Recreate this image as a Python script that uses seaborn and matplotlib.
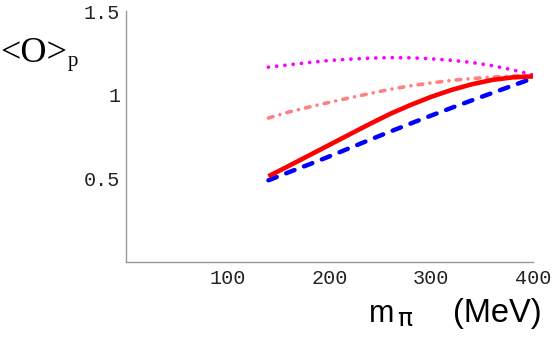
import matplotlib
matplotlib.use("Agg")
import matplotlib.pyplot as plt
import seaborn as sns
import pandas as pd

# ---- data ----
m_pi = [140, 160, 180, 200, 220, 240, 260, 280, 300, 320, 340, 360, 380, 400]
solid_red = [0.514, 0.576, 0.639, 0.702, 0.765, 0.828, 0.888, 0.941, 0.989,
             1.030, 1.064, 1.090, 1.105, 1.111]
dashed_blue = [0.490, 0.538, 0.585, 0.633, 0.683, 0.733, 0.782, 0.830, 0.877,
               0.923, 0.968, 1.012, 1.056, 1.100]
dashdot_pink = [0.862, 0.898, 0.928, 0.956, 0.983, 1.009, 1.034, 1.055, 1.072,
                1.087, 1.098, 1.107, 1.113, 1.116]
dotted_magenta = [1.166, 1.180, 1.194, 1.206, 1.214, 1.220, 1.223, 1.222, 1.216,
                  1.207, 1.194, 1.175, 1.150, 1.120]
x_ticks = [100, 200, 300, 400]
x_tick_labels = ["100", "200", "300", "400"]
y_ticks = [0.5, 1.0, 1.5]
y_tick_labels = ["0.5", "1", "1.5"]

df = pd.DataFrame({"m_pi": m_pi, "red": solid_red, "blue": dashed_blue,
                   "pink": dashdot_pink, "magenta": dotted_magenta})

sns.set_style("white")
plt.rcParams["font.family"] = ["Liberation Sans", "DejaVu Sans"]

fig = plt.figure(figsize=(5.54, 3.39), dpi=100)
ax = fig.add_axes([0.2274, 0.2263, 0.7347, 0.7404])

specs = [
    ("magenta", "#FF00FF", 2.7, (0, (0.01, 2.2))),
    ("pink", "#FF8080", 2.6, (0, (1.3, 2.0, 0.01, 2.0))),
    ("blue", "#0000FF", 3.2, (0, (2.0, 2.3))),
    ("red", "#FF0000", 3.3, "-"),
]
for col, color, lw, ls in specs:
    sns.lineplot(data=df, x="m_pi", y=col, ax=ax, color=color, linewidth=lw,
                 estimator=None, sort=False)
    line = ax.lines[-1]
    line.set_linestyle(ls)
    line.set_dash_capstyle("round")
    line.set_solid_capstyle("butt")
    line.set_solid_joinstyle("round")

ax.set_xlim(0, 400)
ax.set_ylim(0, 1.5)
ax.set_xticks(x_ticks)
ax.set_xticklabels(x_tick_labels)
ax.set_yticks(y_ticks)
ax.set_yticklabels(y_tick_labels)
ax.set_xlabel("")
ax.set_ylabel("")

for s in ["top", "right"]:
    ax.spines[s].set_visible(False)
for s in ["left", "bottom"]:
    ax.spines[s].set_color("#999999")
    ax.spines[s].set_linewidth(1.0)

ax.tick_params(axis="both", direction="in", length=3, width=0.8,
               color="#999999", labelcolor="#222222", labelsize=14.5)
ax.tick_params(axis="x", pad=5)
ax.tick_params(axis="y", pad=4)
for lab in ax.get_xticklabels() + ax.get_yticklabels():
    lab.set_fontfamily("Liberation Mono")

# y label: <O>_p
fig.text(0.0, (339 - 62) / 339, "<O>", fontsize=26, family="Liberation Serif",
         ha="left", va="baseline", color="black")
fig.text(68 / 554, (339 - 66) / 339, "p", fontsize=15, family="Liberation Serif",
         ha="left", va="baseline", color="black")

# x label: m_pi   (MeV)
base_y = (339 - 321.7) / 339
fig.text(369 / 554, base_y, "m", fontsize=22, family="Liberation Sans",
         ha="left", va="baseline", color="black")
fig.text(397 / 554, (339 - 326) / 339, "π", fontsize=18, family="DejaVu Sans",
         ha="left", va="baseline", color="black")
fig.text(542 / 554, base_y, "(MeV)", fontsize=23.5,
         family="Liberation Sans", ha="right", va="baseline", color="black")

fig.savefig("out.png", dpi=100)
